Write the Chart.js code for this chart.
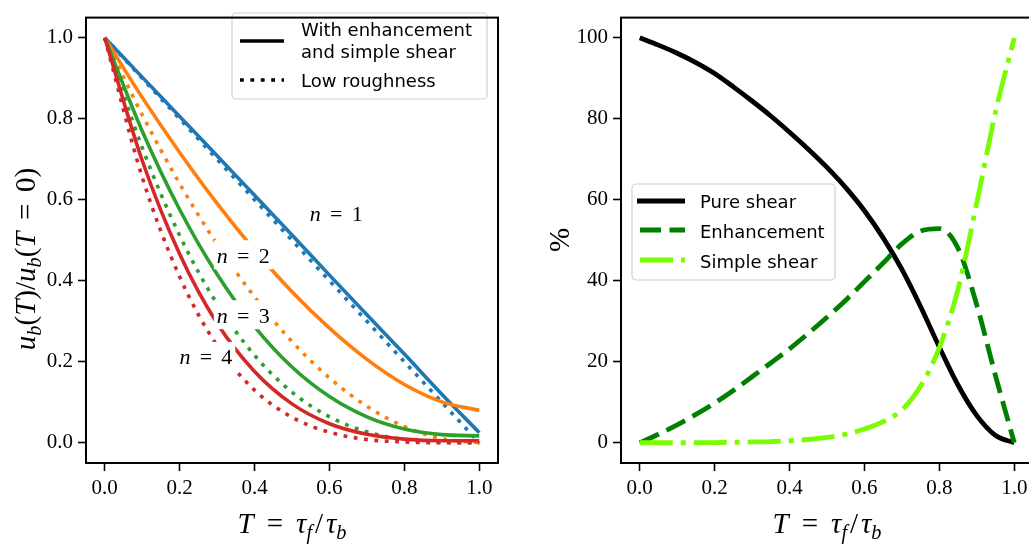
<!DOCTYPE html>
<html>
<head>
<meta charset="utf-8">
<script src="https://cdn.jsdelivr.net/npm/chart.js@4.4.1/dist/chart.umd.min.js"></script>
<style>
html, body { margin: 0; padding: 0; background: #fff; overflow: hidden; width: 1029px; height: 548px; }
#left { position: absolute; left: 0; top: 0; }
#right { position: absolute; left: 515px; top: 0; }
</style>
</head>
<body>
<canvas id="left" width="515" height="548"></canvas>
<canvas id="right" width="530" height="548"></canvas>
<script>
// values
var tLeft = [0, 0.1, 0.2, 0.3, 0.4, 0.5, 0.6, 0.7, 0.8, 0.9, 1.0];
var n1Full = [1, 0.903, 0.806, 0.709, 0.611, 0.513, 0.414, 0.316, 0.219, 0.12, 0.025];
var n1Low  = [1, 0.9, 0.8, 0.7, 0.6, 0.5, 0.4, 0.3, 0.2, 0.1, 0.0];
var n2Full = [1, 0.853, 0.717, 0.591, 0.476, 0.373, 0.283, 0.206, 0.144, 0.101, 0.08];
var n2Low  = [1, 0.81, 0.64, 0.49, 0.36, 0.25, 0.16, 0.09, 0.04, 0.01, 0];
var n3Full = [1, 0.77, 0.576, 0.416, 0.287, 0.187, 0.114, 0.064, 0.034, 0.02, 0.017];
var n3Low  = [1, 0.729, 0.512, 0.343, 0.216, 0.125, 0.064, 0.027, 0.008, 0.001, 0];
var n4Full = [1, 0.697, 0.466, 0.295, 0.176, 0.096, 0.047, 0.021, 0.009, 0.005, 0.005];
var n4Low  = [1, 0.656, 0.41, 0.24, 0.13, 0.063, 0.026, 0.008, 0.002, 0, 0];

var tRight = [0, 0.05, 0.1, 0.15, 0.2, 0.25, 0.3, 0.35, 0.4, 0.45, 0.5, 0.55, 0.6, 0.65, 0.7, 0.75, 0.8, 0.85, 0.9, 0.95, 1.0];
var pureShear   = [100, 98.2, 96.2, 93.9, 91.2, 87.9, 84.4, 80.7, 76.7, 72.5, 68.0, 63.0, 57.3, 50.6, 42.8, 33.6, 23.6, 14.2, 6.7, 1.8, 0];
var enhancement = [0, 2.1, 4.4, 7.0, 9.8, 12.9, 16.3, 19.7, 23.2, 27.0, 31.0, 35.2, 39.8, 44.4, 49.1, 52.3, 52.9, 48.0, 34.0, 16.5, 0];
var simpleShear = [0, 0, 0, 0, 0.05, 0.1, 0.2, 0.3, 0.5, 0.8, 1.3, 2.1, 3.4, 5.2, 8.1, 14, 23.5, 38, 59.3, 81.7, 100];

var xTicks = [0, 0.2, 0.4, 0.6, 0.8, 1.0];
var leftYTicks = [0, 0.2, 0.4, 0.6, 0.8, 1.0];
var rightYTicks = [0, 20, 40, 60, 80, 100];

var nLabels = [
    { n: '1', x: 0.618, y: 0.566 },
    { n: '2', x: 0.37, y: 0.463 },
    { n: '3', x: 0.37, y: 0.315 },
    { n: '4', x: 0.27, y: 0.212 }
];

var SERIF = '"Liberation Serif", "Times New Roman", serif';
var SANS = '"DejaVu Sans", sans-serif';

function pts(xs, ys) {
    return xs.map(function(x, i) { return { x: x, y: ys[i] }; });
}

// draws text like T = tau_f / tau_b, parts are [text, kind] or a gap in em
function drawMath(ctx, parts, size, x, y, rotate) {
    function fontFor(k) {
        return (k.indexOf('i') >= 0 ? 'italic ' : '') + (k.charAt(0) === 's' ? size * 0.7 : size) + 'px ' + SERIF;
    }
    var w = 0;
    var items = [];
    parts.forEach(function(p) {
        if (typeof p === 'number') { w += p * size; return; }
        ctx.font = fontFor(p[1]);
        var m = ctx.measureText(p[0]).width;
        items.push({ t: p[0], k: p[1], x: w });
        w += m;
    });
    ctx.save();
    ctx.translate(x, y);
    if (rotate) ctx.rotate(-Math.PI / 2);
    ctx.textAlign = 'left';
    ctx.textBaseline = 'alphabetic';
    ctx.fillStyle = '#000';
    items.forEach(function(it) {
        ctx.font = fontFor(it.k);
        ctx.fillText(it.t, it.x - w / 2, it.k.charAt(0) === 's' ? size * 0.2 : 0);
    });
    ctx.restore();
    return w;
}

var xTitle = [['T', 'i'], 0.45, ['=', 'r'], 0.45, ['τ', 'i'], ['f', 'si'], 0.1, ['/', 'r'], 0.1, ['τ', 'i'], ['b', 'si']];
var yTitle = [['u', 'i'], ['b', 'si'], ['(', 'r'], ['T', 'i'], [')', 'r'], ['/', 'r'], ['u', 'i'], ['b', 'si'],
              ['(', 'r'], ['T', 'i'], 0.4, ['=', 'r'], 0.4, ['0', 'r'], [')', 'r']];

function roundBox(ctx, x, y, w, h, r) {
    ctx.beginPath();
    ctx.moveTo(x + r, y);
    ctx.lineTo(x + w - r, y);
    ctx.arcTo(x + w, y, x + w, y + r, r);
    ctx.lineTo(x + w, y + h - r);
    ctx.arcTo(x + w, y + h, x + w - r, y + h, r);
    ctx.lineTo(x + r, y + h);
    ctx.arcTo(x, y + h, x, y + h - r, r);
    ctx.lineTo(x, y + r);
    ctx.arcTo(x, y, x + r, y, r);
    ctx.closePath();
    ctx.fillStyle = 'rgba(255,255,255,0.85)';
    ctx.fill();
    ctx.strokeStyle = '#d0d0d0';
    ctx.lineWidth = 1.2;
    ctx.stroke();
}

function handle(ctx, x1, x2, y, color, width, dash) {
    ctx.save();
    ctx.beginPath();
    ctx.setLineDash(dash || []);
    ctx.strokeStyle = color;
    ctx.lineWidth = width;
    ctx.moveTo(x1, y);
    ctx.lineTo(x2, y);
    ctx.stroke();
    ctx.restore();
}

function frameAndTitles(yT, rotateY, yTitleX, yTitleY, xTitleY) {
    return {
        id: 'frameAndTitles',
        afterDraw: function(chart) {
            var ctx = chart.ctx, a = chart.chartArea;
            ctx.save();
            ctx.strokeStyle = '#000';
            ctx.lineWidth = 2;
            ctx.strokeRect(a.left, a.top, a.right - a.left, a.bottom - a.top);
            ctx.restore();
            drawMath(ctx, xTitle, 29, (a.left + a.right) / 2, xTitleY, false);
            drawMath(ctx, yT, 29, yTitleX, yTitleY, rotateY);
        }
    };
}

function scaleOpts(min, max, ticks, fmt, size) {
    return {
        type: 'linear',
        min: min,
        max: max,
        afterBuildTicks: function(scale) {
            scale.ticks = ticks.map(function(v) { return { value: v }; });
        },
        afterFit: function(scale) {
            if (scale.isHorizontal()) scale.height = size; else scale.width = size;
        },
        grid: { display: true, drawOnChartArea: false, drawTicks: true, tickLength: 8, tickWidth: 1.6, tickColor: '#000', color: '#000' },
        border: { display: false },
        ticks: {
            color: '#000',
            padding: 5,
            font: { family: SERIF, size: 21 },
            maxRotation: 0,
            autoSkip: false,
            callback: fmt
        }
    };
}

function oneDecimal(v) { return Number(v).toFixed(1); }
function plain(v) { return String(v); }

var tab = { blue: '#1f77b4', orange: '#ff7f0e', green: '#2ca02c', red: '#d62728' };
var dotted = [3.8, 6.6];

function leftSet(ys, color, low, order) {
    return {
        data: pts(tLeft, ys),
        borderColor: color,
        borderWidth: 3.6,
        borderDash: low ? dotted : [],
        pointRadius: 0,
        fill: false,
        cubicInterpolationMode: 'monotone',
        order: order
    };
}

var leftExtras = {
    id: 'leftExtras',
    afterDatasetsDraw: function(chart) {
        var ctx = chart.ctx;
        var xs = chart.scales.x, ys = chart.scales.y;
        nLabels.forEach(function(l) {
            var cx = xs.getPixelForValue(l.x), cy = ys.getPixelForValue(l.y);
            var parts = [['n', 'i'], 0.42, ['=', 'r'], 0.42, [l.n, 'r']];
            ctx.save();
            ctx.globalAlpha = 0;
            var w = drawMath(ctx, parts, 22, -1000, -1000, false);
            ctx.restore();
            ctx.fillStyle = '#fff';
            ctx.fillRect(cx - w / 2 - 3, cy - 15, w + 6, 29);
            drawMath(ctx, parts, 22, cx, cy + 7.5, false);
        });
        roundBox(ctx, 232, 13, 255, 86, 4);
        handle(ctx, 240, 284, 41, '#000', 3.6, []);
        handle(ctx, 240, 284, 80, '#000', 3.6, dotted);
        ctx.fillStyle = '#000';
        ctx.font = '18px ' + SANS;
        ctx.textAlign = 'left';
        ctx.textBaseline = 'alphabetic';
        ctx.fillText('With enhancement', 301, 36);
        ctx.fillText('and simple shear', 301, 58);
        ctx.fillText('Low roughness', 301, 87);
    }
};

new Chart(document.getElementById('left'), {
    type: 'line',
    data: {
        datasets: [
            leftSet(n1Full, tab.blue, false, 8), leftSet(n1Low, tab.blue, true, 7),
            leftSet(n2Full, tab.orange, false, 6), leftSet(n2Low, tab.orange, true, 5),
            leftSet(n3Full, tab.green, false, 4), leftSet(n3Low, tab.green, true, 3),
            leftSet(n4Full, tab.red, false, 2), leftSet(n4Low, tab.red, true, 1)
        ]
    },
    options: {
        responsive: false,
        animation: false,
        events: [],
        layout: { padding: { top: 2, right: 17, left: 0, bottom: 0 } },
        plugins: { legend: { display: false }, tooltip: { enabled: false } },
        scales: {
            x: scaleOpts(-0.05, 1.05, xTicks, oneDecimal, 85),
            y: scaleOpts(-0.05, 1.05, leftYTicks, oneDecimal, 86)
        }
    },
    plugins: [leftExtras, frameAndTitles(yTitle, true, 35, 259, 533)]
});

var rightLegend = {
    id: 'rightLegend',
    afterDatasetsDraw: function(chart) {
        var ctx = chart.ctx;
        var ox = -515;
        roundBox(ctx, 632 + ox, 184, 203, 96, 4);
        handle(ctx, 637 + ox, 685 + ox, 201, '#000', 4.8, []);
        handle(ctx, 640 + ox, 685 + ox, 230, '#008000', 4.8, [21, 8.5]);
        handle(ctx, 640 + ox, 685 + ox, 260, '#7cfc00', 4.8, [33, 8, 5, 8]);
        ctx.fillStyle = '#000';
        ctx.font = '18px ' + SANS;
        ctx.textAlign = 'left';
        ctx.textBaseline = 'alphabetic';
        ctx.fillText('Pure shear', 700 + ox, 208);
        ctx.fillText('Enhancement', 700 + ox, 238);
        ctx.fillText('Simple shear', 700 + ox, 268);
    }
};

function rightSet(ys, color, dash, order) {
    return {
        data: pts(tRight, ys),
        borderColor: color,
        borderWidth: 4.8,
        borderDash: dash,
        borderJoinStyle: 'round',
        pointRadius: 0,
        fill: false,
        cubicInterpolationMode: 'monotone',
        order: order
    };
}

new Chart(document.getElementById('right'), {
    type: 'line',
    data: {
        datasets: [
            rightSet(pureShear, '#000', [], 3),
            rightSet(enhancement, '#008000', [21, 8.5], 2),
            rightSet(simpleShear, '#7cfc00', [33, 8, 5, 8], 1)
        ]
    },
    options: {
        responsive: false,
        animation: false,
        events: [],
        layout: { padding: { top: 2, right: 12, left: 0, bottom: 0 } },
        plugins: { legend: { display: false }, tooltip: { enabled: false } },
        scales: {
            x: scaleOpts(-0.05, 1.05, xTicks, oneDecimal, 85),
            y: scaleOpts(-5, 105, rightYTicks, plain, 106)
        }
    },
    plugins: [rightLegend, frameAndTitles([['%', 'r']], true, 569 - 515, 240, 533)]
});
</script>
</body>
</html>
